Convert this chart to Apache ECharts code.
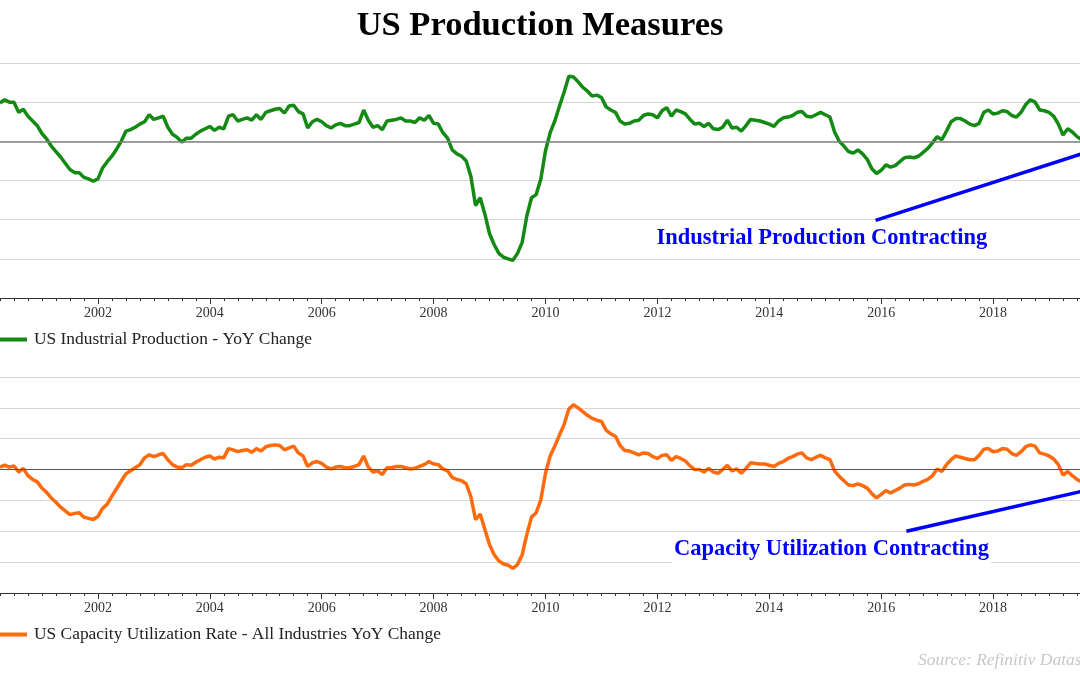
<!DOCTYPE html>
<html><head><meta charset="utf-8">
<script src="https://cdn.jsdelivr.net/npm/echarts@6/dist/echarts.min.js"></script>
<style>html,body{margin:0;padding:0;background:#fff}#c{width:1080px;height:675px}</style>
</head><body><div id="c"></div>
<script>
// Monthly observations, first value = April 2000
const START_YEAR = 2000;
const START_MONTH = 4;

const industrialProduction = [
  4.9, 5.3, 5.0, 5.0, 3.7, 4.1, 3.2, 2.6, 2.0,
  1.0, 0.3, -0.6, -1.3, -2.0, -2.8, -3.6, -4.0, -4.0, -4.6, -4.8, -5.1,
  -4.8, -3.4, -2.6, -1.9, -1.0, 0.0, 1.3, 1.5, 1.8, 2.2, 2.5, 3.4,
  2.8, 3.0, 3.2, 1.8, 0.9, 0.5, -0.1, 0.4, 0.4, 0.9, 1.3, 1.6,
  1.9, 1.4, 1.8, 1.6, 3.2, 3.4, 2.6, 2.8, 3.0, 2.7, 3.4, 2.8,
  3.7, 3.9, 4.1, 4.2, 3.6, 4.5, 4.6, 3.8, 3.5, 1.7, 2.5, 2.8,
  2.5, 2.0, 1.7, 2.1, 2.3, 2.0, 2.0, 2.2, 2.4, 4.0, 2.7, 1.8,
  2.0, 1.5, 2.6, 2.7, 2.8, 3.0, 2.6, 2.6, 2.4, 3.0, 2.7, 3.3,
  2.3, 2.2, 1.1, 0.4, -1.1, -1.6, -1.9, -2.5, -4.5, -8.2, -7.2, -9.3,
  -11.8, -13.2, -14.3, -14.8, -15.0, -15.2, -14.3, -12.9, -9.5, -7.2, -6.8, -4.8,
  -1.2, 1.1, 2.6, 4.5, 6.3, 8.3, 8.2, 7.6, 6.9, 6.4, 5.8, 5.9,
  5.6, 4.4, 4.0, 3.7, 2.6, 2.2, 2.3, 2.6, 2.7, 3.3, 3.5, 3.4,
  3.0, 3.9, 4.3, 3.2, 4.0, 3.8, 3.5, 2.8, 2.2, 2.3, 1.9, 2.3,
  1.6, 1.5, 1.8, 2.7, 1.7, 1.8, 1.3, 2.0, 2.8, 2.7, 2.6, 2.4,
  2.2, 1.9, 2.6, 3.0, 3.1, 3.3, 3.7, 3.8, 3.2, 3.1, 3.4, 3.7,
  3.4, 3.1, 1.2, 0.0, -0.6, -1.3, -1.5, -1.1, -1.6, -2.3, -3.5, -4.1,
  -3.7, -3.0, -3.3, -3.1, -2.6, -2.1, -2.0, -2.1, -1.9, -1.4, -0.9, -0.2,
  0.6, 0.2, 1.3, 2.5, 2.9, 2.9, 2.6, 2.2, 2.0, 2.3, 3.7, 4.0,
  3.5, 3.6, 3.9, 3.8, 3.3, 3.1, 3.7, 4.7, 5.3, 5.0, 4.0, 3.9,
  3.7, 3.2, 2.2, 0.8, 1.6, 1.2, 0.6, 0.2
];

const capacityUtilization = [
  0.4, 0.7, 0.4, 0.6, -0.4, 0.2, -1.0, -1.6, -2.0,
  -3.0, -3.7, -4.6, -5.3, -6.1, -6.7, -7.3, -7.1, -7.0, -7.7, -7.9, -8.1,
  -7.6, -6.3, -5.6, -4.3, -3.1, -1.9, -0.7, -0.2, 0.3, 0.8, 1.9, 2.4,
  2.1, 2.4, 2.6, 1.6, 0.8, 0.4, 0.3, 0.8, 0.7, 1.2, 1.6, 2.0,
  2.2, 1.7, 2.0, 1.9, 3.4, 3.2, 2.9, 3.1, 3.2, 2.8, 3.4, 3.0,
  3.7, 3.9, 4.0, 3.9, 3.2, 3.5, 3.8, 2.7, 2.2, 0.5, 1.1, 1.3,
  1.0, 0.4, 0.1, 0.4, 0.5, 0.3, 0.3, 0.5, 0.8, 2.2, 0.4, -0.4,
  -0.2, -0.8, 0.3, 0.3, 0.5, 0.5, 0.3, 0.1, 0.2, 0.5, 0.8, 1.3,
  0.9, 0.8, 0.1, -0.2, -1.3, -1.6, -1.8, -2.3, -4.4, -8.1, -7.2, -9.7,
  -12.2, -13.8, -14.8, -15.3, -15.5, -16.0, -15.4, -13.8, -10.5, -7.7, -7.0, -4.9,
  -0.6, 2.2, 3.8, 5.6, 7.3, 9.8, 10.5, 10.0, 9.4, 8.8, 8.3, 8.0,
  7.8, 6.4, 5.8, 5.4, 3.9, 3.1, 3.0, 2.7, 2.4, 2.7, 2.6, 2.1,
  1.8, 2.3, 2.4, 1.5, 2.1, 1.8, 1.4, 0.6, 0.0, 0.0, -0.4, 0.2,
  -0.4, -0.6, 0.0, 0.7, -0.2, 0.1, -0.6, 0.2, 1.1, 1.0, 0.9, 0.9,
  0.7, 0.5, 1.0, 1.3, 1.8, 2.1, 2.5, 2.7, 1.9, 1.6, 2.0, 2.3,
  1.9, 1.6, -0.2, -1.1, -1.8, -2.5, -2.6, -2.3, -2.6, -3.0, -3.9, -4.6,
  -4.0, -3.4, -3.8, -3.4, -3.0, -2.5, -2.4, -2.5, -2.3, -1.9, -1.6, -1.0,
  0.1, -0.3, 0.8, 1.6, 2.2, 2.0, 1.8, 1.6, 1.6, 2.3, 3.3, 3.4,
  2.9, 3.0, 3.4, 3.3, 2.6, 2.3, 2.9, 3.7, 4.0, 3.8, 2.7, 2.5,
  2.2, 1.7, 0.8, -0.9, -0.3, -1.0, -1.6, -2.0
];

const seriesNames = ['US Industrial Production - YoY Change', 'US Capacity Utilization Rate - All Industries YoY Change'];
const xRange = { min: 2000, max: 2020, interval: 2 };
const topRange = { min: -20, max: 10, interval: 5 };
const bottomRange = { min: -20, max: 15, interval: 5 };

const ipNote = { text: 'Industrial Production Contracting', at: [2014.94, -12.42], from: [2015.9, -10.1], to: [2019.62, -1.5] };
const cuNote = { text: 'Capacity Utilization Contracting', at: [2015.11, -12.86], from: [2016.45, -10.0], to: [2019.62, -3.45] };

function toPairs(values) {
  return values.map((v, i) => [START_YEAR + (START_MONTH - 1 + i) / 12, v]);
}

const serif = 'Liberation Serif, Times New Roman, serif';

function xAxisCfg(gridIndex) {
  return {
    gridIndex, type: 'value', min: xRange.min, max: xRange.max, interval: xRange.interval,
    axisLine: { show: true, onZero: false, lineStyle: { color: '#333', width: 1 } },
    axisTick: { show: true, length: 6, lineStyle: { color: '#333', width: 1 } },
    minorTick: { show: true, splitNumber: 8, length: 3, lineStyle: { color: '#333', width: 1 } },
    axisLabel: { show: true, margin: 8, color: '#333', fontFamily: serif, fontSize: 14, formatter: v => String(v) },
    splitLine: { show: false }
  };
}
function yAxisCfg(gridIndex, r) {
  return {
    gridIndex, type: 'value', min: r.min, max: r.max, interval: r.interval,
    axisLine: { show: false }, axisTick: { show: false }, axisLabel: { show: false },
    splitLine: { show: true, lineStyle: { color: '#d6d6d6', width: 1 } }
  };
}
function noteMarks(note) {
  return {
    markLine: {
      silent: true, symbol: ['none', 'none'], animation: false,
      lineStyle: { color: '#0000ff', width: 3.5, type: 'solid' },
      label: { show: false },
      data: [[{ coord: note.from }, { coord: note.to }]]
    },
    markPoint: {
      silent: true, symbol: 'rect', symbolSize: 1, animation: false,
      itemStyle: { color: 'rgba(0,0,0,0)' },
      label: {
        show: true, position: 'inside', formatter: '{b}',
        fontFamily: serif, fontWeight: 'bold', fontSize: 22.5, lineHeight: 22, color: '#0000ff',
        backgroundColor: '#ffffff', padding: [0, 2, 10, 2]
      },
      data: [{ name: note.text, coord: note.at }]
    }
  };
}
function zeroLine(xi, color, width) {
  return {
    type: 'line', xAxisIndex: xi, yAxisIndex: xi, data: [], z: 1, silent: true,
    markLine: {
      silent: true, symbol: ['none', 'none'], animation: false,
      lineStyle: { color, width, type: 'solid' }, label: { show: false },
      data: [{ yAxis: 0 }]
    }
  };
}

const chart = echarts.init(document.getElementById('c'), null, { renderer: 'canvas' });
chart.setOption({
  animation: false,
  backgroundColor: '#ffffff',
  title: [
    { text: 'US Production Measures', left: 'center', top: 9, padding: 0,
      textStyle: { fontFamily: serif, fontWeight: 'bold', fontSize: 34.5, color: '#000' } },
    { text: 'Source: Refinitiv Datastream', left: 918, top: 651, padding: 0,
      textStyle: { fontFamily: serif, fontStyle: 'italic', fontWeight: 'normal', fontSize: 17.5, color: '#c8c8c8' } }
  ],
  legend: [
    { data: [seriesNames[0]], left: -6, top: 331, padding: 0, icon: 'rect', itemWidth: 33, itemHeight: 4,
      textStyle: { fontFamily: serif, fontSize: 17.4, color: '#222', padding: [0, 0, 0, 2] } },
    { data: [seriesNames[1]], left: -6, top: 626, padding: 0, icon: 'rect', itemWidth: 33, itemHeight: 4,
      textStyle: { fontFamily: serif, fontSize: 17.4, color: '#222', padding: [0, 0, 0, 2] } }
  ],
  grid: [
    { left: -14, right: -25, top: 63, height: 235, outerBoundsMode: 'none', containLabel: false },
    { left: -14, right: -25, top: 377, height: 216, outerBoundsMode: 'none', containLabel: false }
  ],
  xAxis: [xAxisCfg(0), xAxisCfg(1)],
  yAxis: [yAxisCfg(0, topRange), yAxisCfg(1, bottomRange)],
  series: [
    zeroLine(0, '#808080', 1.6),
    zeroLine(1, '#555555', 1),
    Object.assign({
      name: seriesNames[0], type: 'line', xAxisIndex: 0, yAxisIndex: 0, z: 3,
      data: toPairs(industrialProduction), symbol: 'none', showSymbol: false,
      lineStyle: { color: '#138a13', width: 3.5 }, itemStyle: { color: '#138a13' }
    }, noteMarks(ipNote)),
    Object.assign({
      name: seriesNames[1], type: 'line', xAxisIndex: 1, yAxisIndex: 1, z: 3,
      data: toPairs(capacityUtilization), symbol: 'none', showSymbol: false,
      lineStyle: { color: '#ff6a0d', width: 3.5 }, itemStyle: { color: '#ff6a0d' }
    }, noteMarks(cuNote))
  ]
});
</script></body></html>
